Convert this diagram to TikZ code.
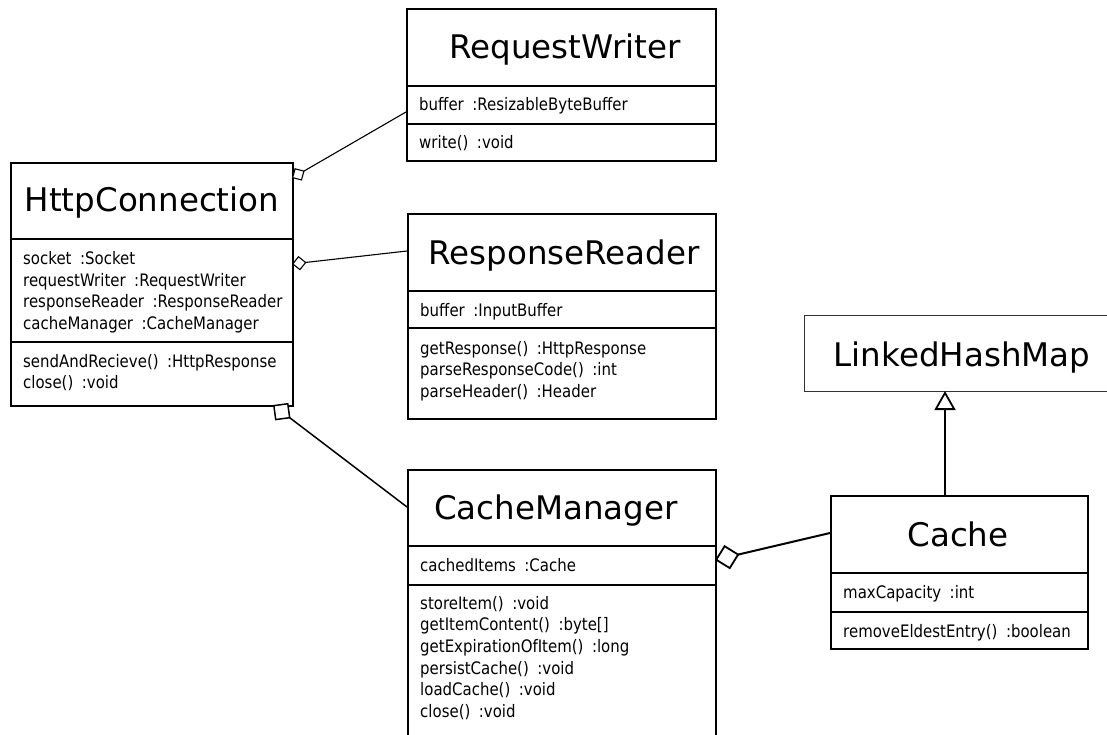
\documentclass[tikz,border=0pt]{standalone}
\usepackage{fontspec}
\setmainfont{DejaVu Sans}
\newfontfamily\bodyfont{DejaVu Sans}[FakeStretch=0.87]
\usetikzlibrary{arrows.meta}
\newcommand\mgap{\hspace{8.5pt}}
\tikzset{
  box/.style={draw, line width=2pt, inner sep=0pt, anchor=north west},
  thinbox/.style={draw=black!80, line width=1.3pt, inner sep=0pt, anchor=north west},
  title/.style={font=\fontsize{32.5}{39}\selectfont, anchor=base, inner sep=0pt},
  member/.style={font=\bodyfont\fontsize{17.2}{20}\selectfont, anchor=base west, inner sep=0pt},
  aggsmall/.style={line width=1.1pt, -{Diamond[fill=white, length=14.5pt, width=14.5pt, line width=1.1pt]}},
  aggmid/.style={line width=1.5pt, -{Diamond[fill=white, length=22pt, width=22pt, line width=1.5pt]}},
  aggbig/.style={line width=2pt, -{Diamond[fill=white, length=25pt, width=25pt, line width=1.8pt]}},
  gen/.style={line width=2pt, -{Triangle[fill=white, length=19pt, width=21pt, line width=1.8pt]}}
}
\begin{document}
\begin{tikzpicture}[x=1pt, y=-1pt]
\useasboundingbox (0,0) rectangle (1107,735);
\fill[white] (0,0) rectangle (1107,735);

% HttpConnection
\node[box, minimum width=282, minimum height=76] (hcT) at (10,162) {};
\node[box, minimum width=282, minimum height=103] (hcA) at (10,238) {};
\node[box, minimum width=282, minimum height=64] (hcM) at (10,341) {};
\node[title] (hcN) at (152,212) {HttpConnection};
\node[member] (hc1) at (23,264.5) {socket\mgap:Socket};
\node[member] (hc2) at (23,286.2) {requestWriter\mgap:RequestWriter};
\node[member] (hc3) at (23,307.9) {responseReader\mgap:ResponseReader};
\node[member] (hc4) at (23,329.6) {cacheManager\mgap:CacheManager};
\node[member] (hc5) at (23,367) {sendAndRecieve()\mgap:HttpResponse};
\node[member] (hc6) at (23,388.7) {close()\mgap:void};

% RequestWriter
\node[box, minimum width=309, minimum height=77] (rwT) at (406,8) {};
\node[box, minimum width=309, minimum height=38] (rwA) at (406,85) {};
\node[box, minimum width=309, minimum height=37] (rwM) at (406,123) {};
\node[title] (rwN) at (565,59) {RequestWriter};
\node[member] (rw1) at (419,111) {buffer\mgap:ResizableByteBuffer};
\node[member] (rw2) at (419,149) {write()\mgap:void};

% ResponseReader
\node[box, minimum width=308, minimum height=77] (rrT) at (407,213) {};
\node[box, minimum width=308, minimum height=37] (rrA) at (407,290) {};
\node[box, minimum width=308, minimum height=91] (rrM) at (407,327) {};
\node[title] (rrN) at (564,264) {ResponseReader};
\node[member] (rr1) at (420,316) {buffer\mgap:InputBuffer};
\node[member] (rr2) at (420,354) {getResponse()\mgap:HttpResponse};
\node[member] (rr3) at (420,375.7) {parseResponseCode()\mgap:int};
\node[member] (rr4) at (420,397.4) {parseHeader()\mgap:Header};

% CacheManager
\node[box, minimum width=308, minimum height=76] (cmT) at (407,469) {};
\node[box, minimum width=308, minimum height=39] (cmA) at (407,545) {};
\node[box, minimum width=308, minimum height=170] (cmM) at (407,584) {};
\node[title] (cmN) at (556,519) {CacheManager};
\node[member] (cm1) at (420,571) {cachedItems\mgap:Cache};
\node[member] (cm2) at (420,609) {storeItem()\mgap:void};
\node[member] (cm3) at (420,630.7) {getItemContent()\mgap:byte[]};
\node[member] (cm4) at (420,652.4) {getExpirationOfItem()\mgap:long};
\node[member] (cm5) at (420,674.1) {persistCache()\mgap:void};
\node[member] (cm6) at (420,695.8) {loadCache()\mgap:void};
\node[member] (cm7) at (420,717.5) {close()\mgap:void};

% Cache
\node[box, minimum width=257, minimum height=77] (caT) at (830,495) {};
\node[box, minimum width=257, minimum height=39] (caA) at (830,572) {};
\node[box, minimum width=257, minimum height=37] (caM) at (830,611) {};
\node[title] (caN) at (958,546) {Cache};
\node[member] (ca1) at (843,598) {maxCapacity\mgap:int};
\node[member] (ca2) at (843,637) {removeEldestEntry()\mgap:boolean};

% LinkedHashMap
\node[thinbox, minimum width=316, minimum height=76] (lhm) at (804,315) {};
\node[title] (lhmN) at (962,366) {LinkedHashMap};

% connector end points
\coordinate (rwEnd) at (406,112);
\coordinate (hcRW) at (292,178);
\coordinate (rrEnd) at (407,251);
\coordinate (hcRR) at (292,264);
\coordinate (cmEnd) at (407,507);
\coordinate (hcCM) at (273,405);
\coordinate (caEnd) at (830,533);
\coordinate (cmCA) at (715,560);
\coordinate (caTop) at (945,495);
\coordinate (lhmBot) at (945,391);

\draw[aggsmall] (rwEnd) -- (hcRW);
\draw[aggsmall] (rrEnd) -- (hcRR);
\draw[aggmid] (cmEnd) -- (hcCM);
\draw[aggbig] (caEnd) -- (cmCA);
\draw[gen] (caTop) -- (lhmBot);
\end{tikzpicture}
\end{document}
